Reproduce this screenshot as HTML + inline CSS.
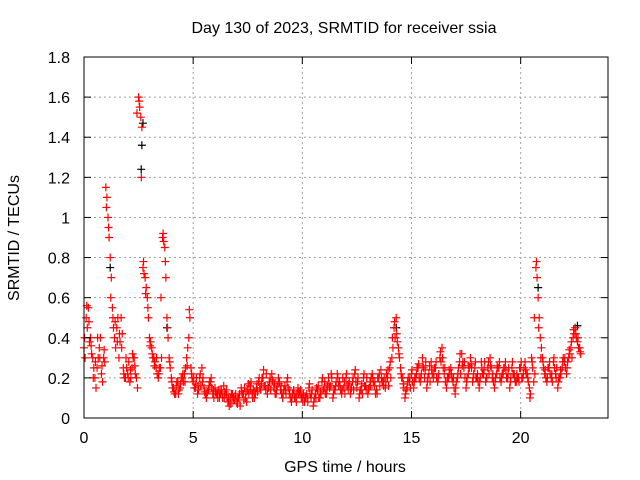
<!DOCTYPE html>
<html><head><meta charset="utf-8"><style>
body{margin:0;background:#fff}
svg{display:block;font-family:"Liberation Sans",sans-serif}
</style></head><body>
<svg id="chart" width="640" height="480">
<text x="344" y="33" font-size="16" text-anchor="middle">Day 130 of 2023, SRMTID for receiver ssia</text>
<text x="345" y="472" font-size="16" text-anchor="middle">GPS time / hours</text>
<text transform="translate(19,238) rotate(-90)" font-size="16" text-anchor="middle">SRMTID / TECUs</text>
<g id="grid"></g><g id="marks"></g><g id="axes"></g>
</svg>
<script>
const xTicks=[0,5,10,15,20];
const yTicks=[0,0.2,0.4,0.6,0.8,1,1.2,1.4,1.6,1.8];
const yTickLabels=["0","0.2","0.4","0.6","0.8","1","1.2","1.4","1.6","1.8"];
const tStart=0, tStep=0.1;
const redA=[0.35,0.5,0.55,0.4,0.3,0.2,0.25,0.35,0.22,0.3,
1.15,1.0,0.8,0.55,0.4,0.45,0.3,0.5,0.25,0.2,
0.22,0.18,0.25,0.3,0.2,1.6,1.5,0.75,0.7,0.6,
0.4,0.35,0.3,0.25,0.2,0.25,0.9,0.85,0.5,0.3,
0.2,0.15,0.12,0.18,0.15,0.2,0.22,0.3,0.4,0.25,
0.18,0.15,0.12,0.2,0.25,0.15,0.1,0.14,0.18,0.12,
0.15,0.12,0.1,0.14,0.16,0.12,0.08,0.1,0.12,0.09,
0.08,0.1,0.15,0.12,0.1,0.14,0.16,0.12,0.1,0.15,
0.18,0.14,0.2,0.16,0.12,0.18,0.22,0.15,0.12,0.2,
0.14,0.1,0.16,0.18,0.12,0.08,0.14,0.1,0.15,0.12,
0.1,0.08,0.12,0.15,0.1,0.06,0.12,0.14,0.1,0.18,
0.15,0.12,0.2,0.16,0.1,0.14,0.22,0.18,0.12,0.15,
0.2,0.14,0.12,0.18,0.22,0.15,0.1,0.14,0.2,0.16,
0.12,0.18,0.22,0.16,0.14,0.2,0.24,0.18,0.15,0.2,
0.25,0.3,0.45,0.5,0.35,0.25,0.2,0.1,0.15,0.18,
0.22,0.15,0.2,0.25,0.18,0.3,0.2,0.15,0.22,0.28,
0.2,0.25,0.18,0.3,0.35,0.22,0.15,0.2,0.25,0.18,
0.12,0.2,0.28,0.32,0.25,0.15,0.22,0.3,0.18,0.25,
0.2,0.15,0.28,0.22,0.18,0.25,0.3,0.2,0.15,0.22,
0.25,0.18,0.22,0.28,0.2,0.15,0.25,0.22,0.18,0.2,
0.25,0.2,0.28,0.22,0.15,0.3,0.18,0.75,0.6,0.4,
0.3,0.22,0.18,0.25,0.2,0.28,0.22,0.15,0.2,0.25,
0.28,0.22,0.3,0.35,0.4,0.45,0.38,0.35];
const redB=[0.3,0.45,0.38,0.32,0.25,0.15,0.3,0.4,0.18,0.28,
1.1,0.9,0.7,0.45,0.35,0.5,0.38,0.42,0.2,0.25,
0.28,0.2,0.3,0.22,0.15,1.55,1.45,0.72,0.65,0.5,
0.38,0.3,0.28,0.22,0.25,0.3,0.88,0.7,0.4,0.25,
0.15,0.12,0.18,0.14,0.2,0.18,0.25,0.35,0.5,0.2,
0.15,0.2,0.14,0.16,0.2,0.12,0.13,0.18,0.15,0.1,
0.12,0.14,0.12,0.1,0.13,0.1,0.06,0.12,0.1,0.12,
0.1,0.06,0.12,0.15,0.08,0.12,0.18,0.14,0.12,0.13,
0.15,0.2,0.16,0.22,0.15,0.14,0.18,0.12,0.16,0.18,
0.12,0.14,0.12,0.15,0.1,0.12,0.1,0.12,0.13,0.1,
0.12,0.1,0.08,0.12,0.14,0.1,0.15,0.1,0.12,0.14,
0.12,0.16,0.15,0.2,0.14,0.18,0.16,0.14,0.2,0.12,
0.16,0.18,0.15,0.14,0.18,0.2,0.14,0.12,0.16,0.2,
0.15,0.2,0.18,0.12,0.2,0.16,0.18,0.2,0.22,0.16,
0.2,0.35,0.4,0.38,0.3,0.2,0.15,0.14,0.2,0.15,
0.18,0.2,0.25,0.2,0.22,0.25,0.28,0.2,0.18,0.22,
0.25,0.2,0.22,0.28,0.25,0.18,0.2,0.22,0.2,0.15,
0.18,0.25,0.22,0.28,0.2,0.2,0.25,0.25,0.22,0.2,
0.18,0.2,0.22,0.28,0.2,0.22,0.25,0.18,0.2,0.25,
0.2,0.22,0.25,0.2,0.25,0.2,0.22,0.18,0.2,0.25,
0.2,0.25,0.22,0.18,0.12,0.25,0.22,0.7,0.5,0.35,
0.25,0.2,0.25,0.22,0.18,0.25,0.25,0.2,0.22,0.3,
0.25,0.28,0.32,0.3,0.42,0.4,0.35,0.32];
const redC=[0.4,0.56,0.48,0.36,0.2,0.28,0.4,0.3,0.26,0.34,
1.05,0.95,0.6,0.5,0.48,0.38,0.42,0.35,0.22,0.3,
0.2,0.24,0.32,0.26,1.52,1.58,1.2,0.78,0.62,0.55,
0.36,0.32,0.26,0.3,0.22,0.6,0.92,0.78,0.45,0.28,
0.18,0.13,0.16,0.12,0.17,0.22,0.18,0.26,0.54,0.22,
0.2,0.17,0.16,0.22,0.18,0.13,0.12,0.16,0.2,0.14,
0.13,0.1,0.14,0.12,0.1,0.14,0.1,0.07,0.09,0.11,
0.07,0.12,0.13,0.09,0.13,0.17,0.14,0.1,0.13,0.17,
0.2,0.17,0.24,0.14,0.16,0.2,0.19,0.17,0.14,0.17,
0.16,0.12,0.14,0.2,0.14,0.1,0.12,0.08,0.12,0.14,
0.08,0.11,0.1,0.17,0.12,0.08,0.1,0.16,0.13,0.2,
0.18,0.14,0.17,0.22,0.12,0.16,0.2,0.16,0.14,0.18,
0.22,0.17,0.14,0.2,0.24,0.18,0.12,0.17,0.22,0.14,
0.14,0.16,0.2,0.18,0.12,0.22,0.2,0.16,0.18,0.24,
0.28,0.4,0.48,0.42,0.32,0.22,0.17,0.12,0.18,0.2,
0.24,0.18,0.22,0.27,0.2,0.26,0.24,0.18,0.26,0.24,
0.22,0.28,0.2,0.33,0.3,0.25,0.18,0.24,0.22,0.2,
0.15,0.22,0.32,0.26,0.28,0.18,0.26,0.27,0.2,0.28,
0.22,0.18,0.25,0.24,0.2,0.28,0.26,0.22,0.18,0.26,
0.28,0.2,0.25,0.24,0.22,0.18,0.28,0.2,0.22,0.18,
0.28,0.22,0.24,0.2,0.1,0.28,0.5,0.78,0.45,0.3,
0.28,0.24,0.2,0.28,0.22,0.3,0.2,0.18,0.24,0.28,
0.3,0.25,0.34,0.38,0.44,0.42,0.4,0.33];
const blackT=[1.2,2.62,2.65,2.7,3.8,14.3,20.8,22.6];
const blackV=[0.75,1.24,1.36,1.47,0.45,0.45,0.65,0.46];
const L=84,R=608,T=57,B=418,xMax=24,yMax=1.8;
const sx=v=>L+(R-L)*v/xMax, sy=v=>B-(B-T)*v/yMax;
const NS="http://www.w3.org/2000/svg";
const grid=document.getElementById('grid'),marks=document.getElementById('marks'),axes=document.getElementById('axes');
function mk(tag,at,parent){const e=document.createElementNS(NS,tag);for(const k in at)e.setAttribute(k,at[k]);parent.appendChild(e);return e;}
xTicks.forEach(v=>{const x=sx(v);
 const g=mk('line',{x1:x,x2:x,y1:T,y2:B,stroke:'#a0a0a0','stroke-dasharray':'2,3'},grid);
 
 
 mk('line',{x1:x,x2:x,y1:B,y2:B-7,stroke:'#000'},axes);
 mk('line',{x1:x,x2:x,y1:T,y2:T+7,stroke:'#000'},axes);
 const t=mk('text',{x:x,y:B+25,'font-size':16,'text-anchor':'middle'},axes);t.textContent=v;
 
 
});
yTicks.forEach((v,i)=>{const y=sy(v);
 if(i>0&&i<yTicks.length-1){const g=mk('line',{x1:L,x2:R,y1:y,y2:y,stroke:'#a0a0a0','stroke-dasharray':'2,3'},grid);
 
 }
 mk('line',{x1:L,x2:L+7,y1:y,y2:y,stroke:'#000'},axes);
 mk('line',{x1:R,x2:R-7,y1:y,y2:y,stroke:'#000'},axes);
 const t=mk('text',{x:L-14,y:y+6,'font-size':16,'text-anchor':'end'},axes);t.textContent=yTickLabels[i];
 
 
});
const frame=mk('rect',{x:L,y:T,width:R-L,height:B-T,fill:'none',stroke:'#000'},axes);


function plus(t,v,c,name){const x=sx(t),y=sy(v);
 const p=mk('path',{d:`M${x-4},${y}H${x+4}M${x},${y-4}V${y+4}`,stroke:c,'stroke-width':1.2},marks);
 
 }
blackT.forEach((t,i)=>plus(t,blackV[i],'#000','black-point'));
redA.forEach((v,i)=>plus(tStart+i*tStep,v,'#f00','red-point'));
redB.forEach((v,i)=>plus(tStart+i*tStep+tStep/2,v,'#f00','red-point'));
redC.forEach((v,i)=>plus(tStart+i*tStep+tStep/4,v,'#f00','red-point'));
</script>
</body></html>
